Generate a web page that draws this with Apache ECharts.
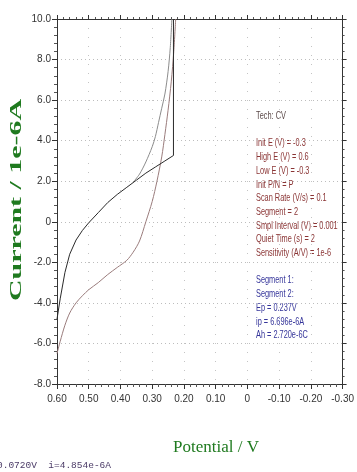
<!DOCTYPE html>
<html>
<head>
<meta charset="utf-8">
<script src="https://cdn.jsdelivr.net/npm/echarts@6/dist/echarts.min.js"></script>
<style>
html,body{margin:0;padding:0;background:#fff;}
#c{width:357px;height:472px;}
</style>
</head>
<body>
<div id="c"></div>
<script>
// ---- data ----
var xTicks = [0.6, 0.5, 0.4, 0.3, 0.2, 0.1, 0, -0.1, -0.2, -0.3];
var yTicks = [10, 8, 6, 4, 2, 0, -2, -4, -6, -8];

var blackPotential = [0.233, 0.233, 0.26, 0.29, 0.32, 0.35, 0.38, 0.41, 0.44, 0.47, 0.50, 0.52, 0.54, 0.56, 0.575, 0.59, 0.60];
var blackCurrent   = [10.0, 3.27, 3.0, 2.7, 2.4, 2.05, 1.7, 1.35, 0.95, 0.45, -0.05, -0.43, -0.9, -1.6, -2.5, -3.8, -4.8];

var upperPotential = [0.36, 0.34, 0.32, 0.30, 0.29, 0.28, 0.27, 0.26, 0.25, 0.243, 0.238];
var upperCurrent   = [1.95, 2.35, 2.95, 3.7, 4.2, 4.9, 5.6, 6.3, 7.4, 8.6, 10.0];

var lowerPotential = [0.60, 0.59, 0.575, 0.56, 0.54, 0.52, 0.50, 0.47, 0.44, 0.41, 0.38, 0.36, 0.34, 0.32, 0.30, 0.285, 0.27, 0.26, 0.25, 0.24, 0.232, 0.226];
var lowerCurrent   = [-6.5, -5.9, -5.1, -4.5, -4.0, -3.65, -3.35, -3.0, -2.6, -2.25, -1.9, -1.5, -0.95, 0.0, 1.0, 2.0, 3.2, 4.3, 5.5, 6.9, 8.4, 10.0];

var infoLines = ['Init E (V) = -0.3', 'High E (V) = 0.6', 'Low E (V) = -0.3', 'Init P/N = P',
  'Scan Rate (V/s) = 0.1', 'Segment = 2', 'Smpl Interval (V) = 0.001', 'Quiet Time (s) = 2', 'Sensitivity (A/V) = 1e-6'];
var resultLines = ['Segment 1:', 'Segment 2:', 'Ep = 0.237V', 'ip = 6.696e-6A', 'Ah = 2.720e-6C'];
var techLine = 'Tech: CV';
var statusLine = '0.0720V  i=4.854e-6A';

function zip(a, b) { return a.map(function (v, i) { return [v, b[i]]; }); }

var chart = echarts.init(document.getElementById('c'), null, {renderer: 'canvas'});
var labFont = '"Liberation Sans Narrow","Arial Narrow","Liberation Sans",sans-serif';

function xFmt(v) { return Math.abs(v) < 1e-9 ? '0' : v.toFixed(2); }
function yFmt(v) { return Math.abs(v) < 1e-9 ? '0' : v.toFixed(1); }

var axisLine = {show: true, onZero: false, lineStyle: {color: '#333', width: 1}};
var gridL = 57, gridR = 11, gridT = 19, gridB = 88;

var lineStep = 13.7, boxTop = 116, boxLeft = 256;
var graphics = [];
function boxText(t, row, color) {
  graphics.push({type: 'text', x: boxLeft, y: boxTop + row * lineStep, scaleX: 0.67,
    style: {text: t, fill: color, font: '11px "Liberation Sans",sans-serif', align: 'left', verticalAlign: 'middle'}});
}
boxText(techLine, 0, '#5a4848');
infoLines.forEach(function (t, i) { boxText(t, 2 + i, '#8a3434'); });
resultLines.forEach(function (t, i) { boxText(t, 12 + i, '#35359a'); });

graphics.push({type: 'text', x: 17, y: 200, rotation: Math.PI / 2, scaleX: 1.76,
  style: {text: 'Current / 1e-6A', fill: '#1f7a1f', font: 'bold 17px "Liberation Serif",serif', align: 'center', verticalAlign: 'middle'}});
graphics.push({type: 'text', x: 216, y: 448,
  style: {text: 'Potential / V', fill: '#1f7a1f', font: '17px "Liberation Serif",serif', align: 'center', verticalAlign: 'middle'}});
graphics.push({type: 'text', x: -3, y: 465,
  style: {text: statusLine, fill: '#4a3a66', font: '9.5px "Liberation Mono",monospace', align: 'left', verticalAlign: 'middle'}});

var option = {
  backgroundColor: '#fff',
  animation: false,
  grid: {left: gridL, right: gridR, top: gridT, bottom: gridB, containLabel: false},
  xAxis: [{
    type: 'value', min: -0.3, max: 0.6, interval: 0.1, inverse: true, position: 'bottom',
    axisLine: axisLine,
    axisTick: {show: true, inside: false, length: 5, lineStyle: {color: '#333'}},
    minorTick: {show: true, splitNumber: 5, length: 3, lineStyle: {color: '#555'}},
    axisLabel: {formatter: xFmt, color: '#333', fontSize: 10, fontFamily: labFont, margin: 10},
    splitLine: {show: true, lineStyle: {color: '#c4c4c4', type: [1, 8], width: 1}}
  }, {
    type: 'value', min: -0.3, max: 0.6, interval: 0.1, inverse: true, position: 'top',
    axisLine: axisLine,
    axisTick: {show: true, inside: false, length: 4, lineStyle: {color: '#333'}},
    minorTick: {show: true, splitNumber: 5, length: 2, lineStyle: {color: '#555'}},
    axisLabel: {show: false}, splitLine: {show: false}
  }],
  yAxis: [{
    type: 'value', min: -8, max: 10, interval: 2, position: 'left',
    axisLine: axisLine,
    axisTick: {show: true, inside: false, length: 5, lineStyle: {color: '#333'}},
    minorTick: {show: true, splitNumber: 5, length: 3, lineStyle: {color: '#555'}},
    axisLabel: {formatter: yFmt, color: '#333', fontSize: 10, fontFamily: labFont, margin: 6},
    splitLine: {show: true, lineStyle: {color: '#bdbdbd', type: [1, 3], width: 1}}
  }, {
    type: 'value', min: -8, max: 10, interval: 2, position: 'right',
    axisLine: axisLine,
    axisTick: {show: true, inside: false, length: 4, lineStyle: {color: '#333'}},
    minorTick: {show: true, splitNumber: 5, length: 2, lineStyle: {color: '#555'}},
    axisLabel: {show: false}, splitLine: {show: false}
  }],
  series: [
    {type: 'line', name: 'lower', data: zip(lowerPotential, lowerCurrent), showSymbol: false, smooth: 0.3,
      lineStyle: {color: '#9a7c7c', width: 1}, clip: true},
    {type: 'line', name: 'upper', data: zip(upperPotential, upperCurrent), showSymbol: false, smooth: 0.3,
      lineStyle: {color: '#8c8c8c', width: 1}, clip: true},
    {type: 'line', name: 'black', data: zip(blackPotential, blackCurrent), showSymbol: false, smooth: false,
      lineStyle: {color: '#2a2a2a', width: 1}, clip: true}
  ],
  graphic: graphics
};
chart.setOption(option);
</script>
</body>
</html>
